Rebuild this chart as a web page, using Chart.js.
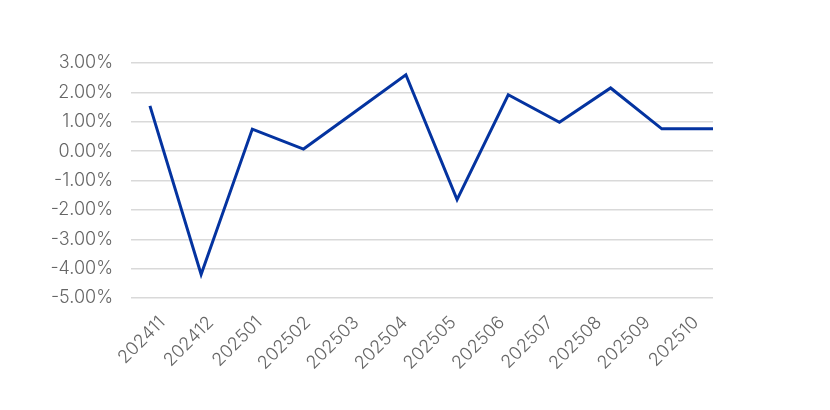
<!DOCTYPE html>
<html>
<head>
<meta charset="utf-8">
<script src="https://cdn.jsdelivr.net/npm/chart.js@4"></script>
<style>
  html, body { margin: 0; padding: 0; background: #fff; }
  .chart-container { width: 830px; height: 410px; }
</style>
</head>
<body>
<div class="chart-container">
  <canvas id="chart"></canvas>
</div>
<script>
// monthly change, percent
const months = ['202411', '202412', '202501', '202502', '202503', '202504',
                '202505', '202506', '202507', '202508', '202509', '202510'];
const changePct = [1.54, -4.2, 0.75, 0.07, 1.33, 2.6, -1.65, 1.92, 0.98, 2.15, 0.76, 0.76];
const yTicks = [3, 2, 1, 0, -1, -2, -3, -4, -5];

const ctx = document.getElementById('chart').getContext('2d');

new Chart(ctx, {
  type: 'line',
  data: {
    labels: months,
    datasets: [
      {
        label: 'change',
        data: changePct.map((v, i) => ({ x: i, y: v })),
        xAxisID: 'xd',
        borderColor: '#0433a0',
        borderWidth: 3,
        pointRadius: 0,
        tension: 0,
        fill: false,
      },
    ],
  },
  options: {
    responsive: true,
    maintainAspectRatio: false,
    animation: false,
    layout: { padding: { top: 63, right: 117, left: 0, bottom: 0 } },
    plugins: {
      legend: { display: false },
      tooltip: { enabled: false },
    },
    scales: {
      x: {
        type: 'category',
        offset: true,
        grid: { display: false },
        border: { display: false },
        ticks: {
          color: '#666',
          font: { family: 'Inter', size: 18, weight: 300 },
          minRotation: 45,
          maxRotation: 45,
          padding: 6,
          labelOffset: 7,
        },
        afterFit: (scale) => { scale.height = 112; },
      },
      xd: {
        type: 'linear',
        display: false,
        min: -0.37,
        max: 11,
      },
      y: {
        min: Math.min(...yTicks),
        max: Math.max(...yTicks),
        afterBuildTicks: (scale) => { scale.ticks = yTicks.map(v => ({ value: v })); },
        grid: { color: '#d9d9d9', lineWidth: 1.5, drawTicks: false },
        border: { display: false },
        ticks: {
          color: '#666',
          font: { family: 'Inter', size: 18, weight: 300 },
          padding: 18,
          callback: (v) => v.toFixed(2) + '%',
        },
        afterFit: (scale) => { scale.width = 131; },
      },
    },
  },
});
</script>
</body>
</html>
